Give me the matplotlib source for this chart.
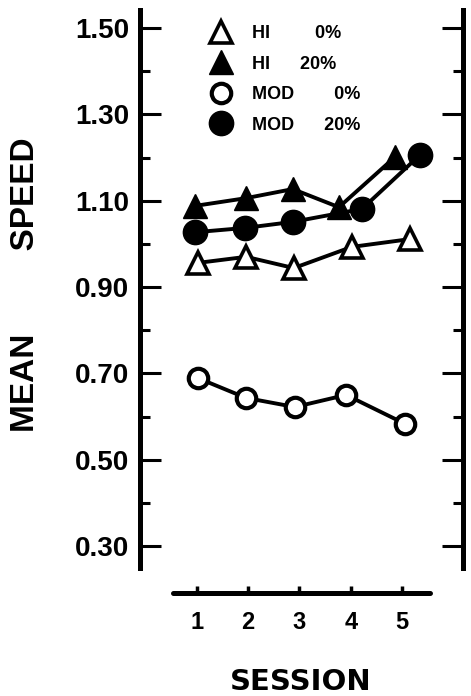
import numpy as np
import matplotlib.pyplot as plt
from matplotlib.lines import Line2D

# session positions as drawn (points are nudged sideways in the original)
x_hi0 = [1.02, 1.96, 2.89, 4.02, 5.15]
x_hi20 = [0.96, 1.96, 2.87, 3.77, 4.86]
x_mod0 = [1.02, 1.96, 2.91, 3.91, 5.06]
x_mod20 = [0.96, 1.94, 2.87, 4.22, 5.35]

hi0 = [0.956, 0.970, 0.944, 0.993, 1.011]
hi20 = [1.088, 1.106, 1.127, 1.085, 1.201]
mod0 = [0.689, 0.643, 0.622, 0.650, 0.583]
mod20 = [1.027, 1.037, 1.051, 1.081, 1.206]

sessions = [1, 2, 3, 4, 5]
yticks = [0.30, 0.50, 0.70, 0.90, 1.10, 1.30, 1.50]
yminor = [0.40, 0.60, 0.80, 1.00, 1.20, 1.40]
labels = ["HI         0%", "HI      20%", "MOD        0%", "MOD      20%"]

plt.rcParams['font.family'] = ['Liberation Sans', 'DejaVu Sans']

fig = plt.figure(figsize=(4.71, 6.96), dpi=100)
ax = fig.add_axes([140 / 471, 1 - 593 / 696, 323 / 471, 583 / 696])

k = 'black'
lw = 2.8
ax.plot(x_hi0, hi0, color=k, lw=lw, marker='^', ms=16, mfc='white', mec=k, mew=2.6, zorder=3)
ax.plot(x_hi20, hi20, color=k, lw=lw, marker='^', ms=17, mfc=k, mec=k, zorder=3)
ax.plot(x_mod0, mod0, color=k, lw=lw, marker='o', ms=14, mfc='white', mec=k, mew=3, zorder=3)
ax.plot(x_mod20, mod20, color=k, lw=lw, marker='o', ms=17.5, mfc=k, mec=k, zorder=3)

ax.set_xlim(-0.11, 6.19)
ax.set_ylim(0.191, 1.542)

for side in ['left', 'right']:
    ax.spines[side].set_linewidth(3.6)
    ax.spines[side].set_bounds(0.25, 1.542)
ax.spines['top'].set_visible(False)
ax.spines['bottom'].set_linewidth(3.6)
ax.spines['bottom'].set_bounds(0.53, 5.55)
ax.spines['bottom'].set_capstyle('round')

ax.set_yticks(yticks)
ax.set_yticks(yminor, minor=True)
ax.set_yticklabels([f"{v:.2f}" for v in yticks], fontsize=20, fontweight='bold')
ax.tick_params(axis='y', which='major', direction='in', length=15, width=2.2,
               left=True, right=True, pad=8)
ax.tick_params(axis='y', which='minor', direction='in', length=7, width=2.2,
               left=True, right=True)

ax.set_xticks(sessions)
ax.set_xticklabels([str(s) for s in sessions], fontsize=17, fontweight='bold')
ax.tick_params(axis='x', direction='in', length=5, width=2.5, pad=13)

ax.text(-0.355, 0.528, "MEAN         SPEED", transform=ax.transAxes, rotation=90,
        ha='center', va='center', fontsize=24, fontweight='bold')
ax.text(0.498, -0.153, "SESSION", transform=ax.transAxes, family='DejaVu Sans',
        ha='center', va='center', fontsize=21, fontweight='bold')

handles = [
    Line2D([], [], ls='none', marker='^', ms=16, mfc='white', mec=k, mew=2.6),
    Line2D([], [], ls='none', marker='^', ms=17, mfc=k, mec=k),
    Line2D([], [], ls='none', marker='o', ms=14, mfc='white', mec=k, mew=3),
    Line2D([], [], ls='none', marker='o', ms=17.5, mfc=k, mec=k),
]
leg = ax.legend(handles, labels, loc='upper left', bbox_to_anchor=(203 / 471, 1 - 16 / 696),
                bbox_transform=fig.transFigure, frameon=False, borderpad=0,
                handlelength=1.0, handletextpad=1.2, labelspacing=0.75,
                prop={'weight': 'bold', 'size': 13})

fig.savefig('out.png', dpi=100)
